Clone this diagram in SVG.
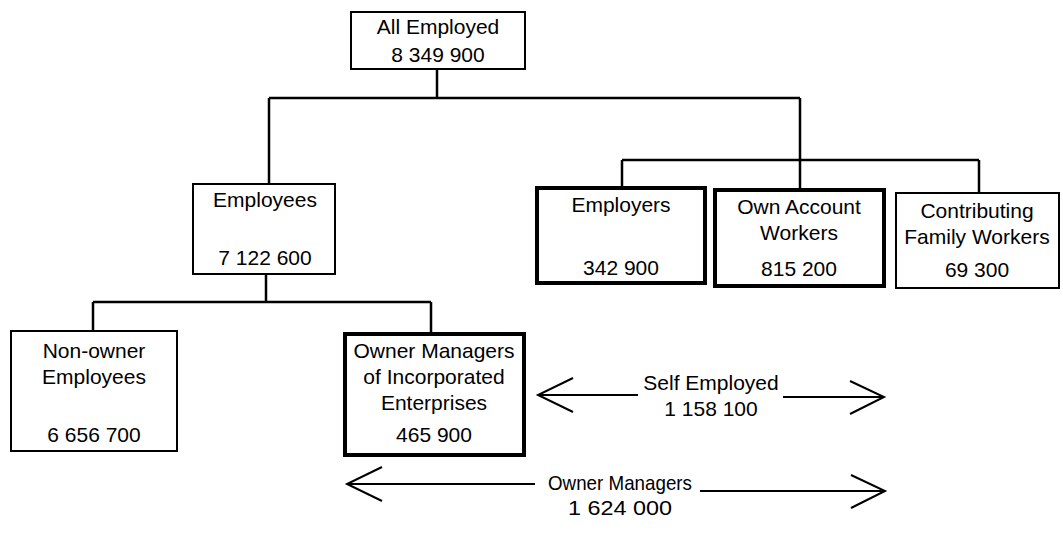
<svg xmlns="http://www.w3.org/2000/svg" width="1063" height="541" viewBox="0 0 1063 541">
<style>
  .box { fill: #fff; stroke: #000; stroke-width: 2; }
  .thick { fill: #fff; stroke: #000; stroke-width: 4; }
  .t { font-family: "Liberation Sans", Arial, sans-serif; font-size: 21px; fill: #000; text-anchor: middle; }
  .ln { fill: none; stroke: #000; stroke-width: 2.5; }
  .ar { fill: none; stroke: #000; stroke-width: 2; }
</style>
<rect width="1063" height="541" fill="#fff"/>
<g id="connectors">
  <path class="ln" d="M437,69 V98 M269,98 H800 M269,98 V184 M800,98 V190 M622,160 H979 M622,160 V188 M979,160 V193"/>
  <path class="ln" d="M266,274 V302 M93,302 H431 M93,302 V331 M431,302 V334"/>
  <path class="ar" d="M573,378 L538,395 L573,412 M538,395 H638 M783,397 H884 M850,381 L884,397 L850,414"/>
  <path class="ar" d="M382,467 L347,484 L382,501 M347,484 H535 M700,491 H885 M851,475 L885,491 L851,508"/>
</g>
<g id="all-employed">
  <rect class="box" x="351" y="12" width="174" height="57"/>
  <text class="t" x="438" y="34">All Employed</text>
  <text class="t" x="438" y="62">8 349 900</text>
</g>
<g id="employees">
  <rect class="box" x="193" y="184" width="142" height="90"/>
  <text class="t" x="265" y="207">Employees</text>
  <text class="t" x="265" y="265">7 122 600</text>
</g>
<g id="employers">
  <rect class="thick" x="537" y="188" width="168" height="95"/>
  <text class="t" x="621" y="212">Employers</text>
  <text class="t" x="621" y="275">342 900</text>
</g>
<g id="own-account">
  <rect class="thick" x="715" y="190" width="169" height="96"/>
  <text class="t" x="799" y="214">Own Account</text>
  <text class="t" x="799" y="240">Workers</text>
  <text class="t" x="799" y="276">815 200</text>
</g>
<g id="contributing">
  <rect class="box" x="896" y="193" width="163" height="95"/>
  <text class="t" x="977" y="218">Contributing</text>
  <text class="t" x="977" y="244">Family Workers</text>
  <text class="t" x="977" y="277">69 300</text>
</g>
<g id="non-owner">
  <rect class="box" x="11" y="331" width="166" height="120"/>
  <text class="t" x="94" y="358">Non-owner</text>
  <text class="t" x="94" y="384">Employees</text>
  <text class="t" x="94" y="442">6 656 700</text>
</g>
<g id="owner-managers">
  <rect class="thick" x="345" y="334" width="179" height="121"/>
  <text class="t" x="434" y="358">Owner Managers</text>
  <text class="t" x="434" y="384">of Incorporated</text>
  <text class="t" x="434" y="410">Enterprises</text>
  <text class="t" x="434" y="442">465 900</text>
</g>
<g id="self-employed-label">
  <text class="t" x="711" y="390">Self Employed</text>
  <text class="t" x="711" y="416">1 158 100</text>
</g>
<g id="owner-managers-label">
  <text class="t" x="620" y="490" textLength="144" lengthAdjust="spacingAndGlyphs">Owner Managers</text>
  <text class="t" x="620" y="515" textLength="104" lengthAdjust="spacingAndGlyphs">1 624 000</text>
</g>
</svg>
